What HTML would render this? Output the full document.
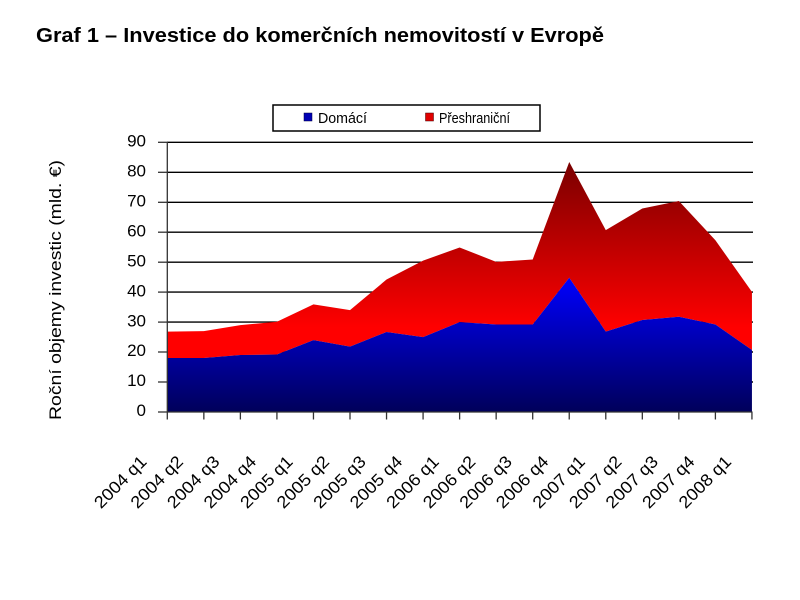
<!DOCTYPE html>
<html>
<head>
<meta charset="utf-8">
<style>
  html, body { margin:0; padding:0; background:#ffffff; }
  body { width:800px; height:600px; overflow:hidden; }
  svg { display:block; }
  text { font-family: "Liberation Sans", "DejaVu Sans", sans-serif; fill:#000; }
</style>
</head>
<body>
<svg width="800" height="600" viewBox="0 0 800 600" xmlns="http://www.w3.org/2000/svg">
  <defs>
    <linearGradient id="gBlue" gradientUnits="userSpaceOnUse" x1="0" y1="277" x2="0" y2="412">
      <stop offset="0" stop-color="#0000ff"/>
      <stop offset="1" stop-color="#00005a"/>
    </linearGradient>
    <linearGradient id="gRed" gradientUnits="userSpaceOnUse" x1="0" y1="160" x2="0" y2="357">
      <stop offset="0" stop-color="#780000"/>
      <stop offset="0.85" stop-color="#ff0000"/>
      <stop offset="1" stop-color="#ff0000"/>
    </linearGradient>
  </defs>

  <!-- Title -->
  <text x="36" y="42" font-size="20" font-weight="bold" textLength="568" lengthAdjust="spacingAndGlyphs">Graf 1 – Investice do komerčních nemovitostí v Evropě</text>

  <!-- Legend -->
  <rect x="273" y="105" width="267" height="26" fill="#fff" stroke="#000" stroke-width="1.5"/>
  <rect x="304" y="113" width="8" height="8" fill="#0000b4" stroke="#000040" stroke-width="0.5"/>
  <text x="318" y="123" font-size="15" textLength="49" lengthAdjust="spacingAndGlyphs">Domácí</text>
  <rect x="425.5" y="113" width="8" height="8" fill="#e00000" stroke="#400000" stroke-width="0.5"/>
  <text x="439" y="123" font-size="15" textLength="71" lengthAdjust="spacingAndGlyphs">Přeshraniční</text>

  <!-- Gridlines -->
  <g stroke="#000" stroke-width="1.4">
    <line x1="167" y1="142.3" x2="753" y2="142.3"/>
    <line x1="167" y1="172.3" x2="753" y2="172.3"/>
    <line x1="167" y1="202.3" x2="753" y2="202.3"/>
    <line x1="167" y1="232.2" x2="753" y2="232.2"/>
    <line x1="167" y1="262.2" x2="753" y2="262.2"/>
    <line x1="167" y1="292.1" x2="753" y2="292.1"/>
    <line x1="167" y1="322.1" x2="753" y2="322.1"/>
    <line x1="167" y1="352.0" x2="753" y2="352.0"/>
    <line x1="167" y1="382.0" x2="753" y2="382.0"/>
  </g>

  <!-- Red area (Přeshraniční) -->
  <polygon fill="url(#gRed)" points="
    167.3,331.68 203.84,331.08 240.38,325.09 276.92,321.79 313.46,304.41 350.0,310.10
    386.54,279.53 423.08,260.65 459.62,247.46 496.16,261.85 532.7,259.45 569.24,162.05
    605.78,230.08 642.32,208.50 678.86,201.01 715.4,240.27 751.94,291.82
    751.94,349.96 715.4,324.49 678.86,316.70 642.32,319.99 605.78,331.68 569.24,277.73
    532.7,324.49 496.16,324.49 459.62,322.09 423.08,337.08 386.54,331.98 350.0,346.67
    313.46,340.07 276.92,354.46 240.38,355.06 203.84,358.05 167.3,358.05"/>

  <!-- Blue area (Domácí) -->
  <polygon fill="url(#gBlue)" points="
    167.3,358.05 203.84,358.05 240.38,355.06 276.92,354.46 313.46,340.07 350.0,346.67
    386.54,331.98 423.08,337.08 459.62,322.09 496.16,324.49 532.7,324.49 569.24,277.73
    605.78,331.68 642.32,319.99 678.86,316.70 715.4,324.49 751.94,349.96
    751.94,412 167.3,412"/>

  <!-- Axes -->
  <g stroke="#333" stroke-width="1.3">
    <line x1="167.3" y1="142" x2="167.3" y2="412"/>
    <line x1="167.3" y1="412" x2="752.5" y2="412"/>
    <!-- y ticks -->
    <line x1="158" y1="142.3" x2="167.3" y2="142.3"/>
    <line x1="158" y1="172.3" x2="167.3" y2="172.3"/>
    <line x1="158" y1="202.3" x2="167.3" y2="202.3"/>
    <line x1="158" y1="232.2" x2="167.3" y2="232.2"/>
    <line x1="158" y1="262.2" x2="167.3" y2="262.2"/>
    <line x1="158" y1="292.1" x2="167.3" y2="292.1"/>
    <line x1="158" y1="322.1" x2="167.3" y2="322.1"/>
    <line x1="158" y1="352.0" x2="167.3" y2="352.0"/>
    <line x1="158" y1="382.0" x2="167.3" y2="382.0"/>
    <line x1="158" y1="412" x2="167.3" y2="412"/>
    <!-- x ticks -->
    <line x1="167.3" y1="412" x2="167.3" y2="419.5"/>
    <line x1="203.84" y1="412" x2="203.84" y2="419.5"/>
    <line x1="240.38" y1="412" x2="240.38" y2="419.5"/>
    <line x1="276.92" y1="412" x2="276.92" y2="419.5"/>
    <line x1="313.46" y1="412" x2="313.46" y2="419.5"/>
    <line x1="350.0" y1="412" x2="350.0" y2="419.5"/>
    <line x1="386.54" y1="412" x2="386.54" y2="419.5"/>
    <line x1="423.08" y1="412" x2="423.08" y2="419.5"/>
    <line x1="459.62" y1="412" x2="459.62" y2="419.5"/>
    <line x1="496.16" y1="412" x2="496.16" y2="419.5"/>
    <line x1="532.7" y1="412" x2="532.7" y2="419.5"/>
    <line x1="569.24" y1="412" x2="569.24" y2="419.5"/>
    <line x1="605.78" y1="412" x2="605.78" y2="419.5"/>
    <line x1="642.32" y1="412" x2="642.32" y2="419.5"/>
    <line x1="678.86" y1="412" x2="678.86" y2="419.5"/>
    <line x1="715.4" y1="412" x2="715.4" y2="419.5"/>
    <line x1="751.94" y1="412" x2="751.94" y2="419.5"/>
  </g>

  <!-- Y tick labels -->
  <g font-size="17" text-anchor="end">
    <text x="146" y="146.5">90</text>
    <text x="146" y="176.5">80</text>
    <text x="146" y="206.5">70</text>
    <text x="146" y="236.4">60</text>
    <text x="146" y="266.4">50</text>
    <text x="146" y="296.3">40</text>
    <text x="146" y="326.3">30</text>
    <text x="146" y="356.2">20</text>
    <text x="146" y="386.2">10</text>
    <text x="146" y="416.2">0</text>
  </g>

  <!-- Y axis title -->
  <text transform="translate(61,290) rotate(-90)" x="0" y="0" font-size="17" text-anchor="middle" textLength="260" lengthAdjust="spacingAndGlyphs">Roční objemy investic (mld. €)</text>

  <!-- X tick labels -->
  <g font-size="17" text-anchor="middle">
    <text transform="translate(124.3,486) rotate(-45)" textLength="66" lengthAdjust="spacingAndGlyphs">2004 q1</text>
    <text transform="translate(160.84,486) rotate(-45)" textLength="66" lengthAdjust="spacingAndGlyphs">2004 q2</text>
    <text transform="translate(197.38,486) rotate(-45)" textLength="66" lengthAdjust="spacingAndGlyphs">2004 q3</text>
    <text transform="translate(233.92,486) rotate(-45)" textLength="66" lengthAdjust="spacingAndGlyphs">2004 q4</text>
    <text transform="translate(270.46,486) rotate(-45)" textLength="66" lengthAdjust="spacingAndGlyphs">2005 q1</text>
    <text transform="translate(307.0,486) rotate(-45)" textLength="66" lengthAdjust="spacingAndGlyphs">2005 q2</text>
    <text transform="translate(343.54,486) rotate(-45)" textLength="66" lengthAdjust="spacingAndGlyphs">2005 q3</text>
    <text transform="translate(380.08,486) rotate(-45)" textLength="66" lengthAdjust="spacingAndGlyphs">2005 q4</text>
    <text transform="translate(416.62,486) rotate(-45)" textLength="66" lengthAdjust="spacingAndGlyphs">2006 q1</text>
    <text transform="translate(453.16,486) rotate(-45)" textLength="66" lengthAdjust="spacingAndGlyphs">2006 q2</text>
    <text transform="translate(489.7,486) rotate(-45)" textLength="66" lengthAdjust="spacingAndGlyphs">2006 q3</text>
    <text transform="translate(526.24,486) rotate(-45)" textLength="66" lengthAdjust="spacingAndGlyphs">2006 q4</text>
    <text transform="translate(562.78,486) rotate(-45)" textLength="66" lengthAdjust="spacingAndGlyphs">2007 q1</text>
    <text transform="translate(599.32,486) rotate(-45)" textLength="66" lengthAdjust="spacingAndGlyphs">2007 q2</text>
    <text transform="translate(635.86,486) rotate(-45)" textLength="66" lengthAdjust="spacingAndGlyphs">2007 q3</text>
    <text transform="translate(672.4,486) rotate(-45)" textLength="66" lengthAdjust="spacingAndGlyphs">2007 q4</text>
    <text transform="translate(708.94,486) rotate(-45)" textLength="66" lengthAdjust="spacingAndGlyphs">2008 q1</text>
  </g>
</svg>
</body>
</html>
